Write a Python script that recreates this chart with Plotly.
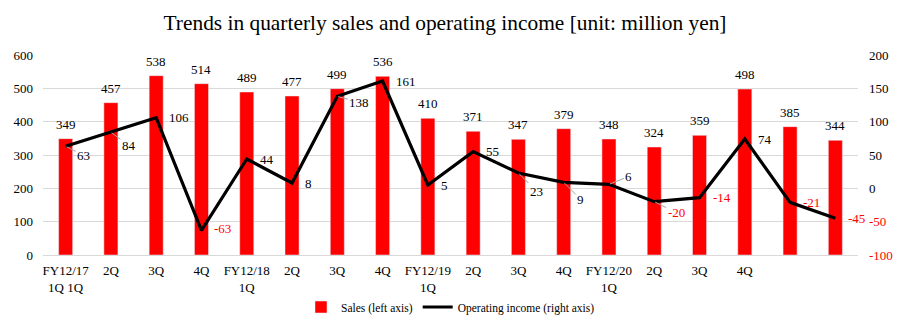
import plotly.graph_objects as go

categories = ["FY12/17<br>1Q 1Q", "2Q", "3Q", "4Q", "FY12/18<br>1Q", "2Q", "3Q", "4Q",
              "FY12/19<br>1Q", "2Q", "3Q", "4Q", "FY12/20<br>1Q", "2Q", "3Q", "4Q", "", ""]
sales = [349, 457, 538, 514, 489, 477, 499, 536, 410, 371, 347, 379, 348, 324, 359, 498, 385, 344]
op_income = [63, 84, 106, -63, 44, 8, 138, 161, 5, 55, 23, 9, 6, -20, -14, 74, -21, -45]
left_ticks = [0, 100, 200, 300, 400, 500, 600]
right_ticks = [-100, -50, 0, 50, 100, 150, 200]

# label placement for operating income labels: (ax, ay, leader)
op_label_pos = [(18, 9, True), (18, 13, True), (0, 0, False), (0, -2, False), (0, 0, False),
                (0, 0, False), (22, 6, True), (0, 0, False), (0, 0, False), (0, 0, False),
                (18, 18, True), (17, 17, True), (20, -8, True), (22, 11, True), (0, 0, False),
                (0, 0, False), (0, 0, False), (0, 0, False)]

FONT = "Liberation Serif, Times New Roman, serif"
x = list(range(len(sales)))

fig = go.Figure()
fig.add_trace(go.Bar(x=x, y=sales, name="Sales (left axis)", marker_color="#ff0000",
                     width=0.31, yaxis="y"))
fig.add_trace(go.Scatter(x=x, y=op_income, name="Operating income (right axis)", mode="lines",
                         line=dict(color="black", width=3.2), yaxis="y2"))

annotations = []
for i, v in enumerate(sales):
    annotations.append(dict(x=i, y=v, xref="x", yref="y", text=str(v), showarrow=False,
                            yanchor="bottom", yshift=5,
                            font=dict(family=FONT, size=13, color="black")))
for i, v in enumerate(op_income):
    ax, ay, leader = op_label_pos[i]
    color = "#ff0000" if v < 0 else "#000000"
    if leader:
        annotations.append(dict(x=i, y=v, xref="x", yref="y2", text=str(v), showarrow=True,
                                arrowhead=0, arrowwidth=1, arrowcolor="#a6a6a6",
                                ax=ax, ay=ay, standoff=1,
                                font=dict(family=FONT, size=13, color=color)))
    else:
        annotations.append(dict(x=i, y=v, xref="x", yref="y2", text=str(v), showarrow=False,
                                xanchor="left", xshift=11, yshift=-ay,
                                font=dict(family=FONT, size=13, color=color)))

right_text = [("<span style='color:#ff0000'>%d</span>" % t) if t < 0 else str(t) for t in right_ticks]

fig.update_layout(
    width=899, height=323,
    margin=dict(l=43, r=41, t=55, b=68, autoexpand=False),
    paper_bgcolor="white", plot_bgcolor="white",
    font=dict(family=FONT, size=13, color="black"),
    title=dict(text="Trends in quarterly sales and operating income [unit: million yen]",
               x=0.495, xanchor="center", y=0.93, yanchor="middle",
               font=dict(family=FONT, size=21.4, color="black")),
    bargap=0.69,
    showlegend=True,
    legend=dict(orientation="h", x=0.5, xanchor="center", y=-0.26, yanchor="middle",
                bgcolor="rgba(0,0,0,0)",
                font=dict(family=FONT, size=11.5, color="black")),
    xaxis=dict(tickvals=x, ticktext=categories, range=[-0.5, len(sales) - 0.5],
               showgrid=False, showline=True, linecolor="#d9d9d9", ticks="",
               ticklabelstandoff=3,
               tickfont=dict(family=FONT, size=13), zeroline=False),
    yaxis=dict(range=[0, 600], tickvals=left_ticks, showgrid=True, gridcolor="#d9d9d9",
               zeroline=False, ticks="", ticklabelstandoff=9,
               tickfont=dict(family=FONT, size=13)),
    yaxis2=dict(range=[-100, 200], tickvals=right_ticks, ticktext=right_text, overlaying="y",
                side="right", showgrid=False, zeroline=False, ticks="", ticklabelstandoff=10,
                tickfont=dict(family=FONT, size=13)),
    annotations=annotations,
)

fig.write_html("out.html")
